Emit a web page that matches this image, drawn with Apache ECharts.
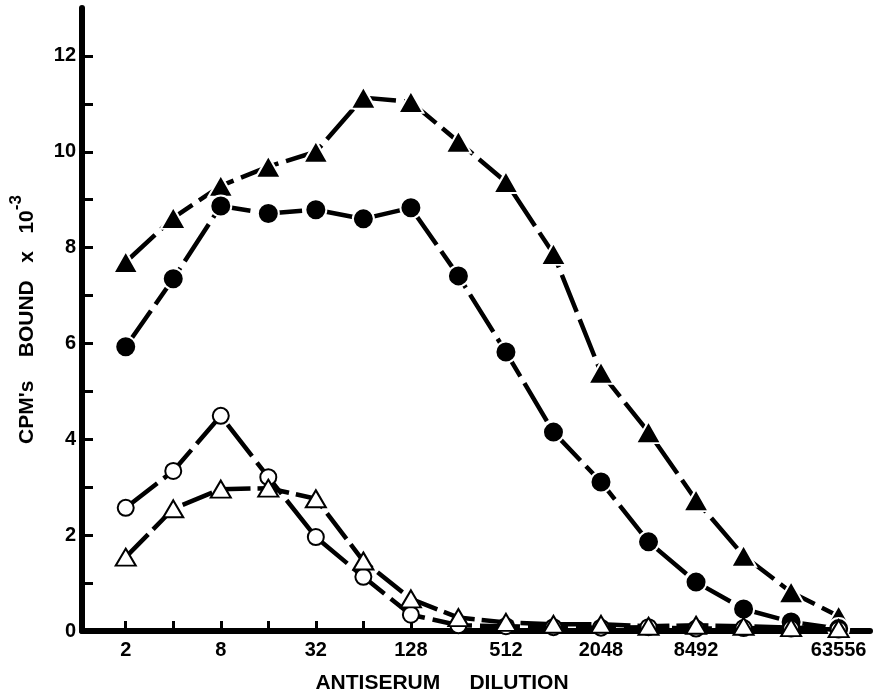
<!DOCTYPE html>
<html>
<head>
<meta charset="utf-8">
<script src="https://cdn.jsdelivr.net/npm/echarts@6/dist/echarts.min.js"></script>
<style>
  html, body { margin: 0; padding: 0; background: #fff; }
  #chart { width: 874px; height: 699px; }
</style>
</head>
<body>
<div id="chart"></div>
<script>
// antiserum dilutions (plotted on a log2 axis)
const dilutions = [2, 4, 8, 16, 32, 64, 128, 256, 512, 1024, 2048, 4096, 8192, 16384, 32768, 65536]
// tick labels as lettered on the original (typos kept)
const tickDilutions = [2, 8, 32, 128, 512, 2048, 8192, 65536]
const tickLabels = ['2', '8', '32', '128', '512', '2048', '8492', '63556']

// CPM's bound x 10^-3
const filledTriangles = [7.7, 8.62, 9.29, 9.69, 10.0, 11.13, 11.04, 10.21, 9.37, 7.87, 5.39, 4.15, 2.73, 1.57, 0.81, 0.31]
const filledCircles = [5.93, 7.35, 8.87, 8.71, 8.79, 8.6, 8.83, 7.41, 5.82, 4.15, 3.11, 1.86, 1.02, 0.46, 0.19, 0.05]
const openCircles = [2.57, 3.34, 4.49, 3.21, 1.96, 1.13, 0.34, 0.12, 0.1, 0.08, 0.07, 0.08, 0.05, 0.06, 0.05, 0.03]
const openTriangles = [1.54, 2.55, 2.96, 2.98, 2.76, 1.46, 0.67, 0.28, 0.18, 0.14, 0.14, 0.1, 0.12, 0.1, 0.07, 0.05]

const FONT = 'Liberation Sans'
const log2 = (v) => Math.log(v) / Math.LN2
const toPoints = (vals) => dilutions.map((d, i) => [log2(d), vals[i]])

const labelMap = {}
tickDilutions.forEach((d, i) => { labelMap[log2(d)] = tickLabels[i] })

const chart = echarts.init(document.getElementById('chart'))

// one curve: black line, long dashes, filled or open markers
const lineSeries = (name, vals, symbol, size, dash, open) => ({
  name,
  type: 'line',
  data: toPoints(vals),
  symbol,
  symbolSize: size,
  showSymbol: true,
  animation: false,
  lineStyle: { color: '#000', width: 4.5, type: dash },
  itemStyle: open
    ? { color: '#000', borderColor: '#000', borderWidth: 3.5 }
    : { color: '#000', borderColor: '#fff', borderWidth: 2 },
  z: open ? 3 : 2,
})

chart.setOption({
  backgroundColor: '#fff',
  animation: false,
  grid: { left: 68, right: 4, top: 8, bottom: 67, containLabel: false },
  xAxis: {
    type: 'value',
    min: 0.08,
    max: 16.66,
    name: 'ANTISERUM     DILUTION',
    nameLocation: 'middle',
    nameGap: 42,
    nameTextStyle: { fontFamily: FONT, fontSize: 21, fontWeight: 'bold', color: '#000', padding: [0, 68, 0, 0] },
    splitLine: { show: false },
    axisLine: { show: true, lineStyle: { color: '#000', width: 6 } },
    axisTick: {
      show: true,
      inside: true,
      length: 10,
      lineStyle: { color: '#000', width: 3 },
      customValues: dilutions.map(log2),
    },
    axisLabel: {
      fontFamily: FONT,
      fontSize: 20,
      fontWeight: 'bold',
      color: '#000',
      margin: 9,
      customValues: tickDilutions.map(log2),
      formatter: (v) => labelMap[v] || '',
    },
  },
  yAxis: {
    type: 'value',
    min: 0,
    max: 13,
    interval: 1,
    name: "{t|CPM's    BOUND   x   10}{s|-3}",
    nameLocation: 'middle',
    nameRotate: 90,
    nameGap: 36,
    nameTextStyle: {
      rich: {
        t: { fontFamily: FONT, fontSize: 21, fontWeight: 'bold', color: '#000', lineHeight: 24 },
        s: { fontFamily: FONT, fontSize: 17, fontWeight: 'bold', color: '#000', lineHeight: 38, verticalAlign: 'top' },
      },
    },
    splitLine: { show: false },
    axisLine: { show: true, lineStyle: { color: '#000', width: 6, cap: 'round' } },
    axisTick: {
      show: true,
      inside: true,
      length: 11,
      lineStyle: { color: '#000', width: 3 },
      customValues: [1, 2, 3, 4, 5, 6, 7, 8, 9, 10, 11, 12],
    },
    axisLabel: {
      fontFamily: FONT,
      fontSize: 20,
      fontWeight: 'bold',
      color: '#000',
      margin: 6,
      customValues: [0, 2, 4, 6, 8, 10, 12],
    },
  },
  series: [
    lineSeries('filled triangles', filledTriangles, 'triangle', [25, 22], [40, 8], false),
    lineSeries('filled circles', filledCircles, 'circle', 21, [44, 8], false),
    lineSeries('open circles', openCircles, 'emptyCircle', 16, [40, 8], true),
    lineSeries('open triangles', openTriangles, 'emptyTriangle', [20, 17], [32, 7], true),
  ],
})
</script>
</body>
</html>
